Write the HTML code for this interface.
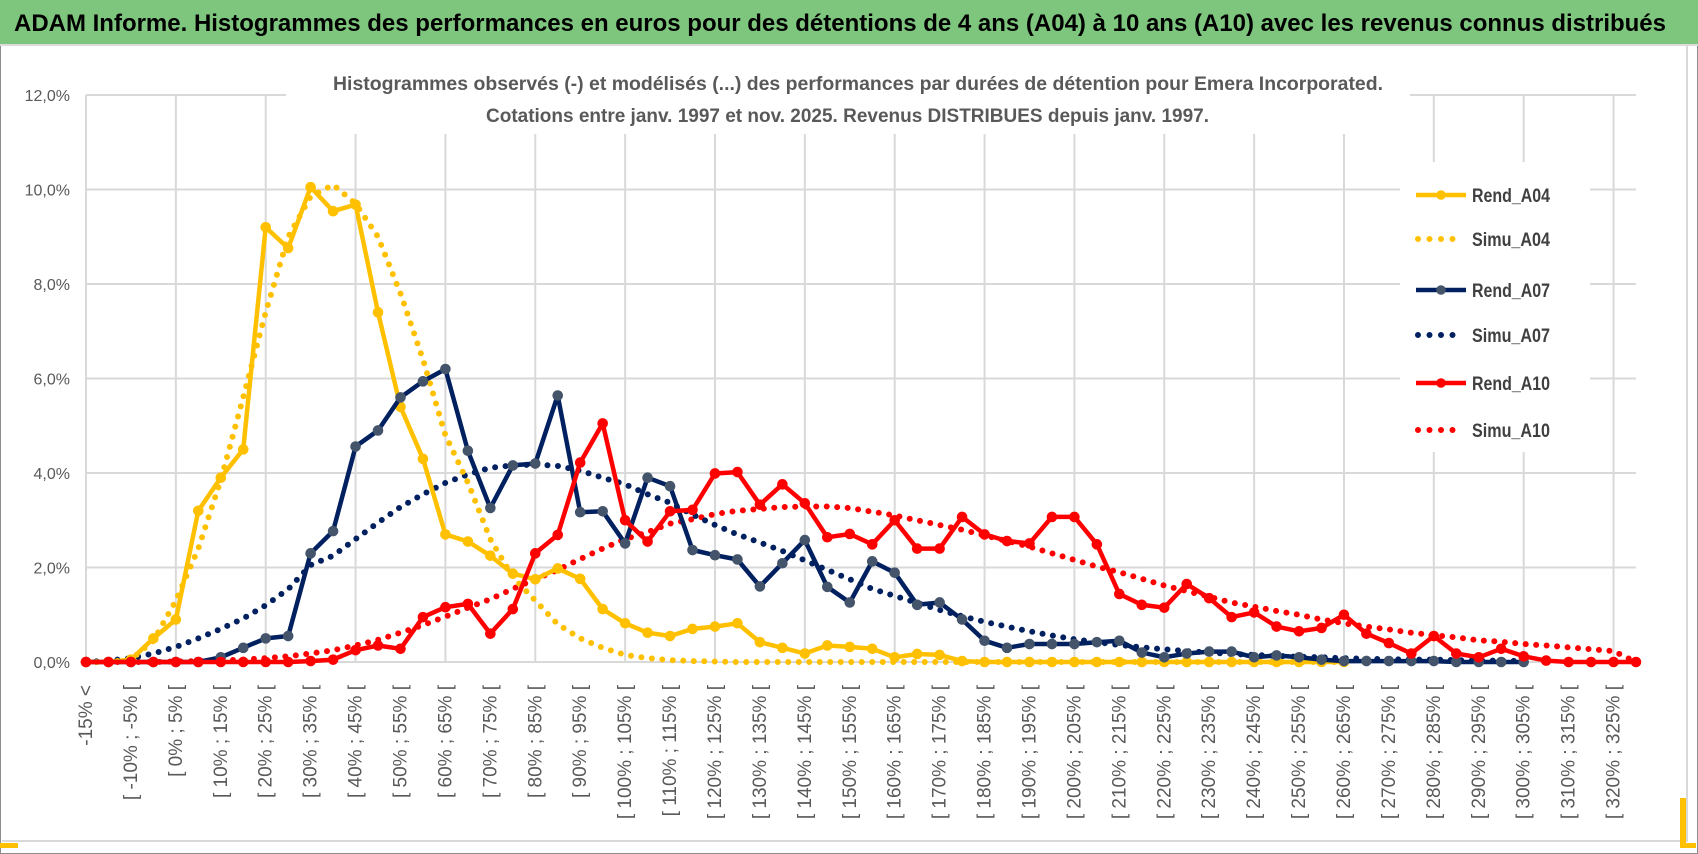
<!DOCTYPE html>
<html><head><meta charset="utf-8">
<style>
html,body{margin:0;padding:0;background:#fff;}
body{width:1698px;height:854px;overflow:hidden;position:relative;font-family:"Liberation Sans",sans-serif;}
svg{position:absolute;left:0;top:0;}
</style></head>
<body>
<svg id="chart" width="1698" height="854" viewBox="0 0 1698 854">
  <rect x="0" y="0" width="1698" height="854" fill="#ffffff"/>
  <rect x="0.5" y="0.5" width="1697" height="853" fill="none" stroke="#8c8c8c"/>
  <rect x="0" y="0" width="1698" height="44" fill="#7ec67e"/>
  <line x1="0" y1="45" x2="1698" y2="45" stroke="#dcdcdc" stroke-width="2"/>
  <text x="14" y="31" font-size="24" font-weight="bold" fill="#000" textLength="1652" lengthAdjust="spacingAndGlyphs">ADAM Informe. Histogrammes des performances en euros pour des détentions de 4 ans (A04) à 10 ans (A10) avec les revenus connus distribués</text>
  <line x1="2" y1="841" x2="1688" y2="841" stroke="#d9d9d9" stroke-width="2"/>
  <line x1="1687" y1="46" x2="1687" y2="841" stroke="#d9d9d9" stroke-width="2"/>
  <rect x="0" y="843" width="18" height="5" fill="#ffc000"/>
  <rect x="1680" y="798" width="6" height="50" fill="#ffc000"/>
  <rect x="1680" y="843" width="16" height="5" fill="#ffc000"/>
  <g id="grid"></g>
  <g id="ylabels"></g>
  <g id="xlabels"></g>
  <rect x="286" y="58" width="1124" height="76" fill="#ffffff"/>
  <text x="333" y="90" font-size="19" font-weight="bold" fill="#595959" textLength="1050" lengthAdjust="spacingAndGlyphs">Histogrammes observés (-) et modélisés (...) des performances par durées de détention pour Emera Incorporated.</text>
  <text x="486" y="122" font-size="19" font-weight="bold" fill="#595959" textLength="723" lengthAdjust="spacingAndGlyphs">Cotations entre janv. 1997 et nov. 2025. Revenus DISTRIBUES depuis janv. 1997.</text>
  <g id="series"></g>
  <rect x="1400" y="162" width="190" height="290" fill="#ffffff"/>
  <g id="legend"></g>
</svg>
<script>
const categories = (function(){ const c=["-15% <"]; for(let a=-15;a<=325;a+=5){ c.push("[ "+a+"% ; "+(a+5)+"% ["); } return c; })();
const yTicks = [0,2,4,6,8,10,12];
const yTickLabels = ["0,0%","2,0%","4,0%","6,0%","8,0%","10,0%","12,0%"];
const seriesNames = ["Rend_A04","Simu_A04","Rend_A07","Simu_A07","Rend_A10","Simu_A10"];
const rendA04 = [0,0,0.05,0.5,0.9,3.2,3.9,4.5,9.2,8.76,10.05,9.54,9.68,7.4,5.4,4.3,2.7,2.55,2.25,1.87,1.75,1.98,1.76,1.12,0.82,0.62,0.55,0.7,0.75,0.82,0.42,0.3,0.18,0.35,0.32,0.28,0.1,0.17,0.15,0.02,0,0,0,0,0,0,0,0,0,0,0,0,0,0,0,0,0,null,null,null,null,null,null,null,null,null,null,null,null,null];
const simuA04 = [0,0,0.05,0.45,1.3,2.4,3.85,5.6,7.4,9.0,9.85,10.1,9.7,9.0,7.8,6.4,4.8,3.8,2.6,1.8,1.3,0.8,0.5,0.3,0.15,0.08,0.04,0.02,0.01,0,0,0,0,0,0,0,0,0,0,0,0,0,0,0,0,0,0,0,0,0,0,0,0,0,0,0,0,null,null,null,null,null,null,null,null,null,null,null,null,null];
const rendA07 = [0,0,0,0,0,0,0.1,0.3,0.5,0.55,2.3,2.77,4.56,4.9,5.6,5.94,6.2,4.47,3.26,4.16,4.2,5.64,3.17,3.19,2.51,3.9,3.72,2.37,2.26,2.17,1.6,2.09,2.58,1.59,1.26,2.13,1.89,1.21,1.26,0.9,0.45,0.3,0.38,0.38,0.38,0.42,0.45,0.2,0.1,0.18,0.22,0.22,0.1,0.14,0.1,0.05,0.02,0.02,0.02,0.02,0.02,0,0,0,0,null,null,null,null,null];
const simuA07 = [0,0.03,0.08,0.18,0.32,0.5,0.7,0.92,1.2,1.54,2.05,2.25,2.6,2.95,3.28,3.55,3.79,3.97,4.11,4.16,4.18,4.15,4.05,3.9,3.76,3.55,3.37,3.12,2.9,2.7,2.53,2.35,2.15,1.95,1.75,1.55,1.4,1.25,1.1,0.97,0.85,0.75,0.65,0.56,0.48,0.42,0.36,0.31,0.27,0.23,0.2,0.17,0.15,0.13,0.11,0.1,0.08,0.07,0.06,0.05,0.05,0.04,0.03,0.03,0.02,null,null,null,null,null];
const rendA10 = [0,0,0,0,0,0,0,0,0,0,0.02,0.05,0.25,0.35,0.28,0.95,1.16,1.23,0.6,1.12,2.3,2.69,4.22,5.05,3.0,2.55,3.19,3.22,3.99,4.02,3.33,3.76,3.36,2.64,2.71,2.49,3.0,2.4,2.4,3.07,2.7,2.56,2.51,3.07,3.07,2.49,1.44,1.21,1.15,1.65,1.35,0.95,1.05,0.75,0.65,0.72,1.0,0.6,0.4,0.18,0.55,0.18,0.1,0.28,0.12,0.03,0,0,0,0];
const simuA10 = [0,0,0,0,0.01,0.02,0.03,0.05,0.08,0.12,0.18,0.25,0.35,0.47,0.62,0.78,0.96,1.15,1.33,1.55,1.75,1.95,2.18,2.4,2.6,2.75,2.93,3.02,3.13,3.2,3.24,3.28,3.29,3.29,3.26,3.18,3.1,3.0,2.9,2.8,2.68,2.56,2.44,2.3,2.16,2.02,1.9,1.76,1.62,1.5,1.38,1.26,1.17,1.08,1.0,0.9,0.82,0.75,0.69,0.62,0.57,0.52,0.46,0.43,0.38,0.35,0.31,0.27,0.23,0];

const NS="http://www.w3.org/2000/svg";
const X0=86, X1=1636, Y0=662, Y12=95;
function xScale(i){ return X0 + (X1-X0)*i/(categories.length-1); }
function yScale(v){ return Y0 - (Y0-Y12)*v/12; }
function mk(tag, attrs, parent){ const e=document.createElementNS(NS,tag); for(const k in attrs) e.setAttribute(k,attrs[k]); parent.appendChild(e); return e; }

const grid=document.getElementById('grid');
yTicks.forEach(function(t,k){
  const l=mk('line',{x1:X0,x2:X1,y1:yScale(t),y2:yScale(t),stroke:'#d9d9d9','stroke-width':2},grid);
  
  
  const tx=mk('text',{x:70,y:yScale(t)+6,'text-anchor':'end','font-size':16,fill:'#595959'},document.getElementById('ylabels'));
  tx.textContent=yTickLabels[k];
  
  
});
for(let i=0;i<categories.length;i+=4){
  const l=mk('line',{x1:xScale(i),x2:xScale(i),y1:Y12,y2:Y0,stroke:'#d9d9d9','stroke-width':2},grid);
  
  
}
const xl=document.getElementById('xlabels');
for(let i=0;i<categories.length;i+=2){
  const x=xScale(i)+6, y=685;
  const t=mk('text',{x:x,y:y,'text-anchor':'end','font-size':19,fill:'#595959',transform:'rotate(-90 '+x+' '+y+')'},xl);
  t.textContent=categories[i];
  
  
}

const sg=document.getElementById('series');
function pathFor(arr){
  let d='', started=false;
  arr.forEach(function(v,i){ if(v===null){started=false;return;} d+=(started?'L':'M')+xScale(i).toFixed(1)+' '+yScale(v).toFixed(1)+' '; started=true; });
  return d;
}
function drawSim(arr,color,name){
  const p=mk('path',{d:pathFor(arr),fill:'none',stroke:color,'stroke-width':6,'stroke-linecap':'round','stroke-dasharray':'0 10.5'},sg);
  
  
}
function drawRend(arr,color,mcolor,name){
  const p=mk('path',{d:pathFor(arr),fill:'none',stroke:color,'stroke-width':4.5,'stroke-linejoin':'round'},sg);
  
  
  arr.forEach(function(v,i){ if(v===null) return;
    const c=mk('circle',{cx:xScale(i),cy:yScale(v),r:4.8,fill:mcolor,stroke:mcolor},sg);
    
    
  });
}
drawSim(simuA10,'#ff0000','simu-a10-line');
drawSim(simuA07,'#002060','simu-a07-line');
drawSim(simuA04,'#ffc000','simu-a04-line');
drawRend(rendA04,'#ffc000','#ffc000','rend-a04-line');
drawRend(rendA07,'#002060','#44546a','rend-a07-line');
drawRend(rendA10,'#ff0000','#ff0000','rend-a10-line');

const lg=document.getElementById('legend');
const legendY=[195,239,290,335,383,430];
const legendColors=['#ffc000','#ffc000','#002060','#002060','#ff0000','#ff0000'];
const legendDotted=[false,true,false,true,false,true];
seriesNames.forEach(function(n,k){
  const y=legendY[k];
  let l;
  if(legendDotted[k]){
    l=mk('line',{x1:1418,x2:1464,y1:y,y2:y,stroke:legendColors[k],'stroke-width':6,'stroke-linecap':'round','stroke-dasharray':'0 11.5'},lg);
  } else {
    l=mk('line',{x1:1416,x2:1466,y1:y,y2:y,stroke:legendColors[k],'stroke-width':4.5},lg);
    const c=mk('circle',{cx:1441,cy:y,r:4.8,fill:k===2?'#44546a':legendColors[k]},lg);
    
    
  }
  
  
  const t=mk('text',{x:1472,y:y+7,'font-size':19,'font-weight':'bold',fill:'#404040',textLength:78,lengthAdjust:'spacingAndGlyphs'},lg);
  t.textContent=n;
  
  
});
</script>
</body></html>
